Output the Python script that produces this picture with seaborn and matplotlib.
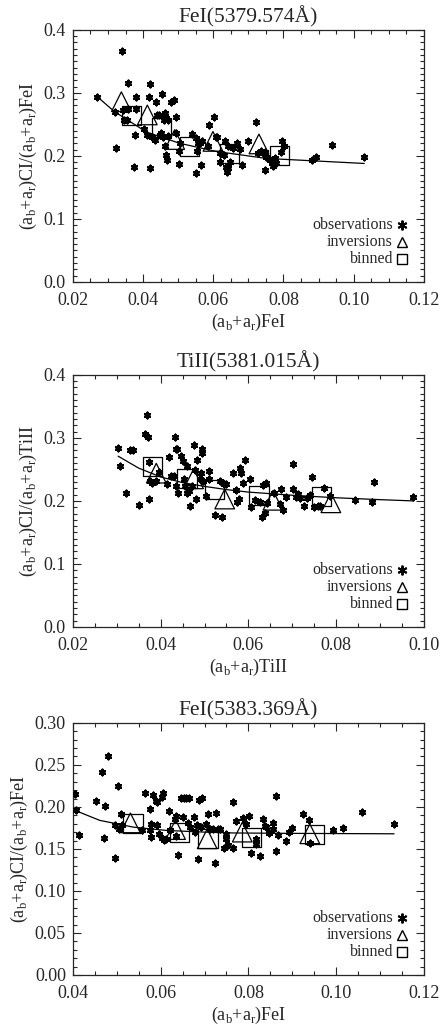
#!/usr/bin/env python

"""
Centre-to-limb ratio of line-core intensities against line width, for three
photospheric lines: observations, inversion results and binned averages.
"""

import matplotlib

matplotlib.use("Agg")

import matplotlib.pyplot as plt
import seaborn as sns
from matplotlib.ticker import MultipleLocator, FormatStrFormatter

# ---------------------------------------------------------------- data
# Panel 1: FeI 5379.574
fe1_obs_x = [0.0269, 0.0341, 0.0322, 0.0319, 0.0357, 0.0343, 0.0345, 0.0355, 0.0357,
             0.0381, 0.0381, 0.0376, 0.0374, 0.0402, 0.0411, 0.0417, 0.0419, 0.0421,
             0.0426, 0.0438, 0.0433, 0.0440, 0.0445, 0.0455, 0.0457, 0.0459, 0.0461,
             0.0466, 0.0452, 0.0457, 0.0461, 0.0466, 0.0468, 0.0470, 0.0480, 0.0487,
             0.0493, 0.0495, 0.0501, 0.0501, 0.0504, 0.0540, 0.0550, 0.0552, 0.0553,
             0.0556, 0.0561, 0.0564, 0.0568, 0.0588, 0.0602, 0.0607, 0.0611, 0.0585,
             0.0618, 0.0620, 0.0633, 0.0631, 0.0635, 0.0640, 0.0642, 0.0647, 0.0656,
             0.0668, 0.0677, 0.0683, 0.0699, 0.0723, 0.0728, 0.0742, 0.0748, 0.0747,
             0.0751, 0.0761, 0.0766, 0.0770, 0.0775, 0.0780, 0.0797, 0.0801, 0.0794,
             0.0880, 0.0894, 0.0937, 0.1030, 0.0449, 0.0470, 0.0642, 0.0735]
fe1_obs_y = [0.294, 0.367, 0.212, 0.270, 0.316, 0.273, 0.257, 0.257, 0.275,
             0.293, 0.274, 0.233, 0.183, 0.242, 0.233, 0.293, 0.314, 0.181,
             0.230, 0.285, 0.225, 0.265, 0.265, 0.298, 0.265, 0.257, 0.268,
             0.260, 0.236, 0.230, 0.215, 0.201, 0.193, 0.257, 0.286, 0.289,
             0.261, 0.236, 0.207, 0.187, 0.220, 0.234, 0.229, 0.173, 0.207,
             0.220, 0.221, 0.186, 0.223, 0.249, 0.261, 0.230, 0.230, 0.215,
             0.204, 0.190, 0.224, 0.201, 0.183, 0.175, 0.215, 0.191, 0.212,
             0.221, 0.211, 0.185, 0.223, 0.253, 0.205, 0.205, 0.206, 0.177,
             0.199, 0.193, 0.188, 0.184, 0.196, 0.189, 0.223, 0.215, 0.206,
             0.194, 0.198, 0.218, 0.198, 0.233, 0.232, 0.181, 0.207]
fe1_inv_x = [0.0338, 0.0412, 0.0490, 0.0599, 0.0730]
fe1_inv_y = [0.286, 0.265, 0.226, 0.223, 0.219]
fe1_bin_x = [0.0368, 0.0452, 0.0533, 0.0645, 0.0789]
fe1_bin_y = [0.264, 0.245, 0.215, 0.204, 0.200]
fe1_fit_x = [0.0269, 0.0319, 0.0409, 0.0504, 0.0609, 0.0751, 0.1030]
fe1_fit_y = [0.294, 0.270, 0.238, 0.220, 0.207, 0.196, 0.188]

# Panel 2: TiII 5381.015
ti_obs_x = [0.0303, 0.0308, 0.0320, 0.0331, 0.0337, 0.0351, 0.0364, 0.0369, 0.0371,
            0.0373, 0.0373, 0.0375, 0.0381, 0.0390, 0.0396, 0.0414, 0.0419, 0.0424,
            0.0430, 0.0432, 0.0434, 0.0437, 0.0436, 0.0440, 0.0447, 0.0451, 0.0453,
            0.0455, 0.0459, 0.0461, 0.0465, 0.0468, 0.0471, 0.0476, 0.0478, 0.0481,
            0.0483, 0.0489, 0.0493, 0.0494, 0.0495, 0.0497, 0.0503, 0.0510, 0.0510,
            0.0523, 0.0535, 0.0540, 0.0544, 0.0550, 0.0565, 0.0571, 0.0573, 0.0579,
            0.0580, 0.0584, 0.0588, 0.0592, 0.0603, 0.0605, 0.0614, 0.0626, 0.0630,
            0.0637, 0.0633, 0.0641, 0.0643, 0.0659, 0.0671, 0.0675, 0.0678, 0.0685,
            0.0702, 0.0702, 0.0708, 0.0712, 0.0717, 0.0726, 0.0734, 0.0741, 0.0745,
            0.0749, 0.0759, 0.0764, 0.0773, 0.0786, 0.0843, 0.0882, 0.0886, 0.0976]
ti_obs_y = [0.284, 0.256, 0.212, 0.281, 0.281, 0.194, 0.306, 0.337, 0.302,
            0.261, 0.203, 0.232, 0.228, 0.232, 0.246, 0.227, 0.269, 0.239,
            0.240, 0.301, 0.282, 0.283, 0.223, 0.213, 0.271, 0.264, 0.234,
            0.223, 0.255, 0.212, 0.215, 0.192, 0.223, 0.289, 0.249, 0.203,
            0.265, 0.235, 0.245, 0.276, 0.283, 0.231, 0.208, 0.247, 0.235,
            0.178, 0.231, 0.175, 0.227, 0.227, 0.245, 0.218, 0.199, 0.203,
            0.252, 0.244, 0.229, 0.265, 0.234, 0.191, 0.202, 0.198, 0.175,
            0.181, 0.226, 0.229, 0.197, 0.212, 0.195, 0.219, 0.185, 0.207,
            0.258, 0.219, 0.207, 0.211, 0.205, 0.192, 0.204, 0.210, 0.238,
            0.190, 0.192, 0.192, 0.221, 0.208, 0.202, 0.198, 0.230, 0.207]
ti_inv_x = [0.0390, 0.0475, 0.0546, 0.0656, 0.0788]
ti_inv_y = [0.244, 0.235, 0.203, 0.201, 0.197]
ti_bin_x = [0.0381, 0.0460, 0.0523, 0.0624, 0.0767]
ti_bin_y = [0.255, 0.236, 0.218, 0.209, 0.207]
ti_fit_x = [0.0303, 0.0350, 0.0400, 0.0450, 0.0500, 0.0550, 0.0600, 0.0700, 0.0800,
            0.0900, 0.0976]
ti_fit_y = [0.271, 0.252, 0.238, 0.229, 0.223, 0.218, 0.214, 0.209, 0.205,
            0.202, 0.200]

# Panel 3: FeI 5383.369
fe3_obs_x = [0.0404, 0.0406, 0.0413, 0.0453, 0.0467, 0.0470, 0.0472, 0.0480, 0.0495,
             0.0503, 0.0509, 0.0497, 0.0506, 0.0512, 0.0558, 0.0564, 0.0576, 0.0579,
             0.0576, 0.0579, 0.0582, 0.0589, 0.0592, 0.0592, 0.0596, 0.0602, 0.0605,
             0.0602, 0.0607, 0.0613, 0.0619, 0.0622, 0.0632, 0.0634, 0.0636, 0.0640,
             0.0647, 0.0651, 0.0653, 0.0658, 0.0665, 0.0662, 0.0666, 0.0676, 0.0678,
             0.0682, 0.0685, 0.0687, 0.0695, 0.0693, 0.0703, 0.0708, 0.0713, 0.0719,
             0.0723, 0.0725, 0.0731, 0.0735, 0.0748, 0.0750, 0.0754, 0.0744, 0.0764,
             0.0765, 0.0771, 0.0788, 0.0795, 0.0802, 0.0807, 0.0817, 0.0817, 0.0827,
             0.0833, 0.0837, 0.0841, 0.0847, 0.0855, 0.0856, 0.0862, 0.0862, 0.0868,
             0.0885, 0.0893, 0.0900, 0.0925, 0.0938, 0.0940, 0.0992, 0.1016, 0.1058,
             0.1132]
fe3_obs_y = [0.215, 0.196, 0.166, 0.207, 0.241, 0.163, 0.201, 0.260, 0.139,
             0.225, 0.192, 0.178, 0.174, 0.179, 0.172, 0.217, 0.197, 0.180,
             0.172, 0.164, 0.214, 0.207, 0.206, 0.178, 0.168, 0.212, 0.216,
             0.163, 0.161, 0.162, 0.195, 0.173, 0.186, 0.189, 0.165, 0.143,
             0.211, 0.188, 0.211, 0.211, 0.211, 0.181, 0.176, 0.188, 0.170,
             0.179, 0.138, 0.208, 0.211, 0.176, 0.180, 0.191, 0.174, 0.174,
             0.133, 0.193, 0.174, 0.174, 0.168, 0.162, 0.155, 0.151, 0.206,
             0.151, 0.183, 0.187, 0.180, 0.189, 0.145, 0.162, 0.156, 0.141,
             0.186, 0.177, 0.176, 0.169, 0.181, 0.174, 0.213, 0.147, 0.166,
             0.159, 0.170, 0.175, 0.192, 0.184, 0.157, 0.173, 0.175, 0.194,
             0.180]
fe3_inv_x = [0.0531, 0.0634, 0.0706, 0.0786, 0.0940]
fe3_inv_y = [0.181, 0.173, 0.162, 0.170, 0.168]
fe3_bin_x = [0.0537, 0.0642, 0.0708, 0.0808, 0.0951]
fe3_bin_y = [0.180, 0.170, 0.162, 0.164, 0.167]
fe3_fit_x = [0.0404, 0.0461, 0.0537, 0.0613, 0.0700, 0.0765, 0.0900, 0.1132]
fe3_fit_y = [0.196, 0.184, 0.176, 0.172, 0.170, 0.169, 0.1685, 0.168]

SERIF = ["Liberation Serif", "DejaVu Serif"]


def style_axes(ax, xlim, xmajor, ylim, ymajor, yfmt):
    """Set limits, IDL-like inward ticks on all four sides and fonts"""
    ax.set_xlim(*xlim)
    ax.set_ylim(*ylim)
    ax.xaxis.set_major_locator(MultipleLocator(xmajor))
    ax.xaxis.set_minor_locator(MultipleLocator(0.005))
    ax.yaxis.set_major_locator(MultipleLocator(ymajor))
    ax.yaxis.set_minor_locator(MultipleLocator(0.01))
    ax.xaxis.set_major_formatter(FormatStrFormatter("%.2f"))
    ax.yaxis.set_major_formatter(FormatStrFormatter(yfmt))
    ax.tick_params(which="both", direction="in", top=True, right=True,
                   width=0.8, labelsize=13)
    ax.tick_params(axis="x", pad=7)
    ax.tick_params(axis="y", pad=5)
    ax.tick_params(which="major", length=6)
    ax.tick_params(which="minor", length=3)
    for sp in ax.spines.values():
        sp.set_linewidth(0.9)
        sp.set_visible(True)


def draw_panel(ax, obs_x, obs_y, inv_x, inv_y, bin_x, bin_y, fit_x, fit_y,
               title, line_name):
    """Draw one panel with observations, inversions, binned points and fit"""
    sns.scatterplot(x=obs_x, y=obs_y, marker=(6, 2, 0), s=16, color="black",
                    linewidth=1.7, ax=ax, zorder=3)
    sns.lineplot(x=fit_x, y=fit_y, sort=False, estimator=None, color="black",
                 linewidth=0.9, ax=ax, zorder=2)
    sns.scatterplot(x=inv_x, y=inv_y, marker="^", s=200, facecolor="none",
                    edgecolor="black", linewidth=0.9, ax=ax, zorder=4)
    sns.scatterplot(x=bin_x, y=bin_y, marker="s", s=190, facecolor="none",
                    edgecolor="black", linewidth=0.9, ax=ax, zorder=4)

    ax.set_title(title, fontsize=15.5, pad=5, family=SERIF)
    sub = r"(a$_\mathregular{b}$+a$_\mathregular{r}$)"
    ax.set_xlabel(sub + line_name, fontsize=13, family=SERIF, labelpad=2)
    ax.set_ylabel(sub + "CI/" + sub + line_name, fontsize=13, family=SERIF,
                  labelpad=3)

    # hand-made legend: right-aligned text with the symbol after it
    labels = ["observations", "inversions", "binned"]
    markers = [(6, 2, 0), "^", "s"]
    ypos = [0.226, 0.158, 0.090]
    for lab, mk, yy in zip(labels, markers, ypos):
        ax.text(0.912, yy, lab, transform=ax.transAxes, ha="right", va="center",
                fontsize=11.5, family=SERIF)
        ax.plot([0.937], [yy], transform=ax.transAxes, marker=mk, ms=7,
                mfc="none", mec="black", mew=1.0 if mk != (6, 2, 0) else 1.4,
                color="black", clip_on=False)


def main():
    sns.set_style("ticks")
    plt.rcParams["font.family"] = SERIF
    plt.rcParams["mathtext.fontset"] = "custom"
    plt.rcParams["mathtext.rm"] = "Liberation Serif"

    fig = plt.figure(figsize=(4.42, 10.29), dpi=100)
    left, width, height = 0.165, 0.794, 0.245
    ax1 = fig.add_axes([left, 0.726, width, height])
    ax2 = fig.add_axes([left, 0.3907, width, height])
    ax3 = fig.add_axes([left, 0.0525, width, height])

    draw_panel(ax1, fe1_obs_x, fe1_obs_y, fe1_inv_x, fe1_inv_y, fe1_bin_x,
               fe1_bin_y, fe1_fit_x, fe1_fit_y, "FeI(5379.574Å)", "FeI")
    style_axes(ax1, (0.02, 0.12), 0.02, (0.0, 0.4), 0.1, "%.1f")

    draw_panel(ax2, ti_obs_x, ti_obs_y, ti_inv_x, ti_inv_y, ti_bin_x,
               ti_bin_y, ti_fit_x, ti_fit_y, "TiII(5381.015Å)", "TiII")
    style_axes(ax2, (0.02, 0.10), 0.02, (0.0, 0.4), 0.1, "%.1f")

    draw_panel(ax3, fe3_obs_x, fe3_obs_y, fe3_inv_x, fe3_inv_y, fe3_bin_x,
               fe3_bin_y, fe3_fit_x, fe3_fit_y, "FeI(5383.369Å)", "FeI")
    style_axes(ax3, (0.04, 0.12), 0.02, (0.0, 0.30), 0.05, "%.2f")

    fig.savefig("out.png", dpi=100)


if __name__ == "__main__":
    main()
